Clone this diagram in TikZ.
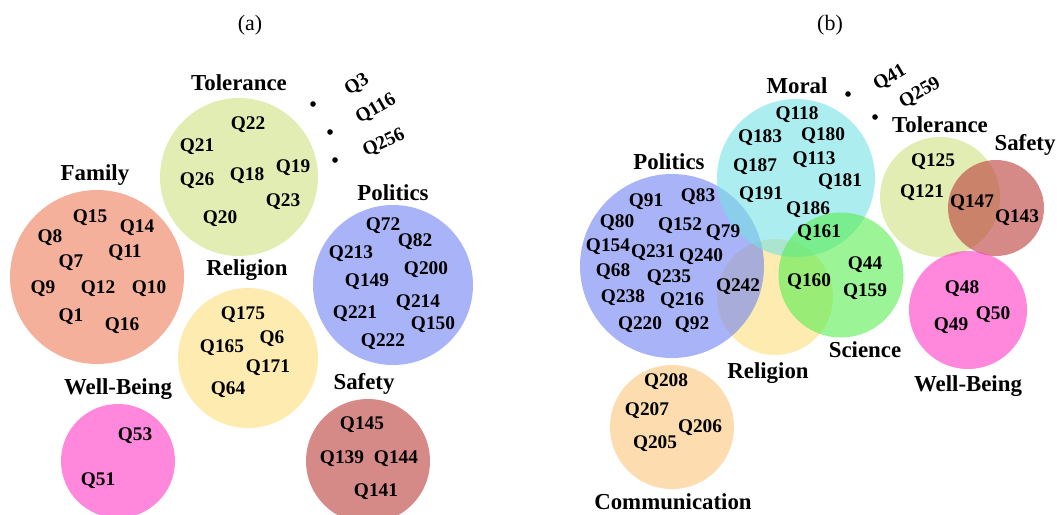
\documentclass[tikz,border=0pt]{standalone}
\usepackage{fontspec}
\setmainfont{Liberation Serif}
\begin{document}
\begin{tikzpicture}[x=0.02cm,y=-0.02cm,
  q/.style={font=\fontsize{11}{12}\selectfont\bfseries, inner sep=0pt},
  lab/.style={font=\fontsize{13}{14}\selectfont\bfseries, inner sep=0pt},
  captxt/.style={font=\fontsize{12.5}{14}\selectfont, inner sep=0pt},
  pdot/.style={circle, fill=black, inner sep=0pt, minimum size=3.2pt}]
\definecolor{cFam}{RGB}{236,123,87}
\definecolor{cTol}{RGB}{207,225,130}
\definecolor{cPol}{RGB}{112,130,243}
\definecolor{cRel}{RGB}{252,222,123}
\definecolor{cWB}{RGB}{255,57,198}
\definecolor{cSaf}{RGB}{187,60,57}
\definecolor{cMor}{RGB}{117,225,228}
\definecolor{cSci}{RGB}{88,238,80}
\definecolor{cCom}{RGB}{252,198,122}
\useasboundingbox (0,0) rectangle (1057,514);
% captions
\node[captxt] (capa) at (250,25) {(a)};
\node[captxt] (capb) at (830,25) {(b)};
% ---------- (a) circles
\fill[cFam, fill opacity=0.6] (97,277) circle (87);
\fill[cTol, fill opacity=0.6] (239,177) circle (79);
\fill[cRel, fill opacity=0.6] (248,358) circle (70);
\fill[cPol, fill opacity=0.6] (393,285) circle (80);
\fill[cWB, fill opacity=0.6] (118,461) circle (57);
\fill[cSaf, fill opacity=0.6] (368,461) circle (62);
% (a) labels
\node[lab] (aTol) at (239,83) {Tolerance};
\node[lab] (aFam) at (95,175) {Family};
\node[lab] (aRel) at (247,270) {Religion};
\node[lab] (aPol) at (393,193) {Politics};
\node[lab] (aWB) at (118,389) {Well-Being};
\node[lab] (aSaf) at (364,384) {Safety};
% Family
\node[q] (a15) at (90,218) {Q15};
\node[q] (a14) at (137,228) {Q14};
\node[q] (a8) at (50,238) {Q8};
\node[q] (a11) at (125,253) {Q11};
\node[q] (a7) at (71,263) {Q7};
\node[q] (a9) at (43,289) {Q9};
\node[q] (a12) at (98,289) {Q12};
\node[q] (a10) at (149,289) {Q10};
\node[q] (a1) at (71,317) {Q1};
\node[q] (a16) at (122,326) {Q16};
% Tolerance
\node[q] (a22) at (248,125) {Q22};
\node[q] (a21) at (197,147) {Q21};
\node[q] (a26) at (197,181) {Q26};
\node[q] (a18) at (247,176) {Q18};
\node[q] (a19) at (293,168) {Q19};
\node[q] (a23) at (283,202) {Q23};
\node[q] (a20) at (220,219) {Q20};
% Religion
\node[q] (a175) at (243,315) {Q175};
\node[q] (a6) at (272,339) {Q6};
\node[q] (a165) at (222,348) {Q165};
\node[q] (a171) at (268,368) {Q171};
\node[q] (a64) at (228,390) {Q64};
% Politics
\node[q] (a72) at (383,226) {Q72};
\node[q] (a82) at (415,242) {Q82};
\node[q] (a213) at (351,254) {Q213};
\node[q] (a200) at (426,270) {Q200};
\node[q] (a149) at (367,282) {Q149};
\node[q] (a214) at (418,303) {Q214};
\node[q] (a221) at (355,314) {Q221};
\node[q] (a150) at (433,325) {Q150};
\node[q] (a222) at (383,342) {Q222};
% Well-Being
\node[q] (a53) at (135,436) {Q53};
\node[q] (a51) at (98,481) {Q51};
% Safety
\node[q] (a145) at (362,425) {Q145};
\node[q] (a139) at (342,459) {Q139};
\node[q] (a144) at (396,459) {Q144};
\node[q] (a141) at (376,492) {Q141};
% outliers (a)
\node[pdot] (ad1) at (313,104) {};
\node[pdot] (ad2) at (330,132) {};
\node[pdot] (ad3) at (335,160) {};
\node[q, rotate=32] (a3) at (357,85) {Q3};
\node[q, rotate=30] (a116) at (376,109) {Q116};
\node[q, rotate=25] (a256) at (384,143) {Q256};
% ---------- (b) circles
\fill[cRel, fill opacity=0.6] (775,297) circle (58);
\fill[cPol, fill opacity=0.6] (672,266) circle (92);
\fill[cMor, fill opacity=0.6] (796,178) circle (79);
\fill[cSci, fill opacity=0.6] (841,275) circle (62.5);
\fill[cTol, fill opacity=0.6] (940,197) circle (60);
\fill[cSaf, fill opacity=0.6] (996,208) circle (48);
\fill[cWB, fill opacity=0.6] (968,310) circle (59);
\fill[cCom, fill opacity=0.6] (672,427) circle (62);
% (b) labels
\node[lab] (bPol) at (669,162) {Politics};
\node[lab] (bMor) at (797,86) {Moral};
\node[lab] (bRel) at (768,373) {Religion};
\node[lab] (bSci) at (865,350) {Science};
\node[lab] (bTol) at (940,125) {Tolerance};
\node[lab] (bSaf) at (1025,145) {Safety};
\node[lab] (bWB) at (968,386) {Well-Being};
\node[lab] (bCom) at (673,502) {Communication};
% Politics (b)
\node[q] (b91) at (646,202) {Q91};
\node[q] (b83) at (698,197) {Q83};
\node[q] (b80) at (617,223) {Q80};
\node[q] (b152) at (680,226) {Q152};
\node[q] (b79) at (723,233) {Q79};
\node[q] (b154) at (608,247) {Q154};
\node[q] (b231) at (653,253) {Q231};
\node[q] (b240) at (701,257) {Q240};
\node[q] (b68) at (613,272) {Q68};
\node[q] (b235) at (669,278) {Q235};
\node[q] (b242) at (738,287) {Q242};
\node[q] (b238) at (623,298) {Q238};
\node[q] (b216) at (682,301) {Q216};
\node[q] (b220) at (640,325) {Q220};
\node[q] (b92) at (692,325) {Q92};
% Moral
\node[q] (b118) at (797,115) {Q118};
\node[q] (b183) at (760,138) {Q183};
\node[q] (b180) at (823,136) {Q180};
\node[q] (b187) at (755,167) {Q187};
\node[q] (b113) at (814,160) {Q113};
\node[q] (b181) at (840,182) {Q181};
\node[q] (b191) at (761,195) {Q191};
\node[q] (b186) at (808,210) {Q186};
\node[q] (b161) at (819,233) {Q161};
% Science
\node[q] (b160) at (809,282) {Q160};
\node[q] (b44) at (865,265) {Q44};
\node[q] (b159) at (865,292) {Q159};
% Tolerance / Safety
\node[q] (b125) at (933,162) {Q125};
\node[q] (b121) at (922,193) {Q121};
\node[q] (b147) at (972,203) {Q147};
\node[q] (b143) at (1017,218) {Q143};
% Well-Being
\node[q] (b48) at (962,289) {Q48};
\node[q] (b50) at (993,315) {Q50};
\node[q] (b49) at (951,326) {Q49};
% Communication
\node[q] (b208) at (666,382) {Q208};
\node[q] (b207) at (647,411) {Q207};
\node[q] (b206) at (700,428) {Q206};
\node[q] (b205) at (655,444) {Q205};
% outliers (b)
\node[pdot] (bd1) at (848,94) {};
\node[pdot] (bd2) at (875,117) {};
\node[q, rotate=30] (b41) at (890,78) {Q41};
\node[q, rotate=30] (b259) at (920,93) {Q259};
\end{tikzpicture}
\end{document}
